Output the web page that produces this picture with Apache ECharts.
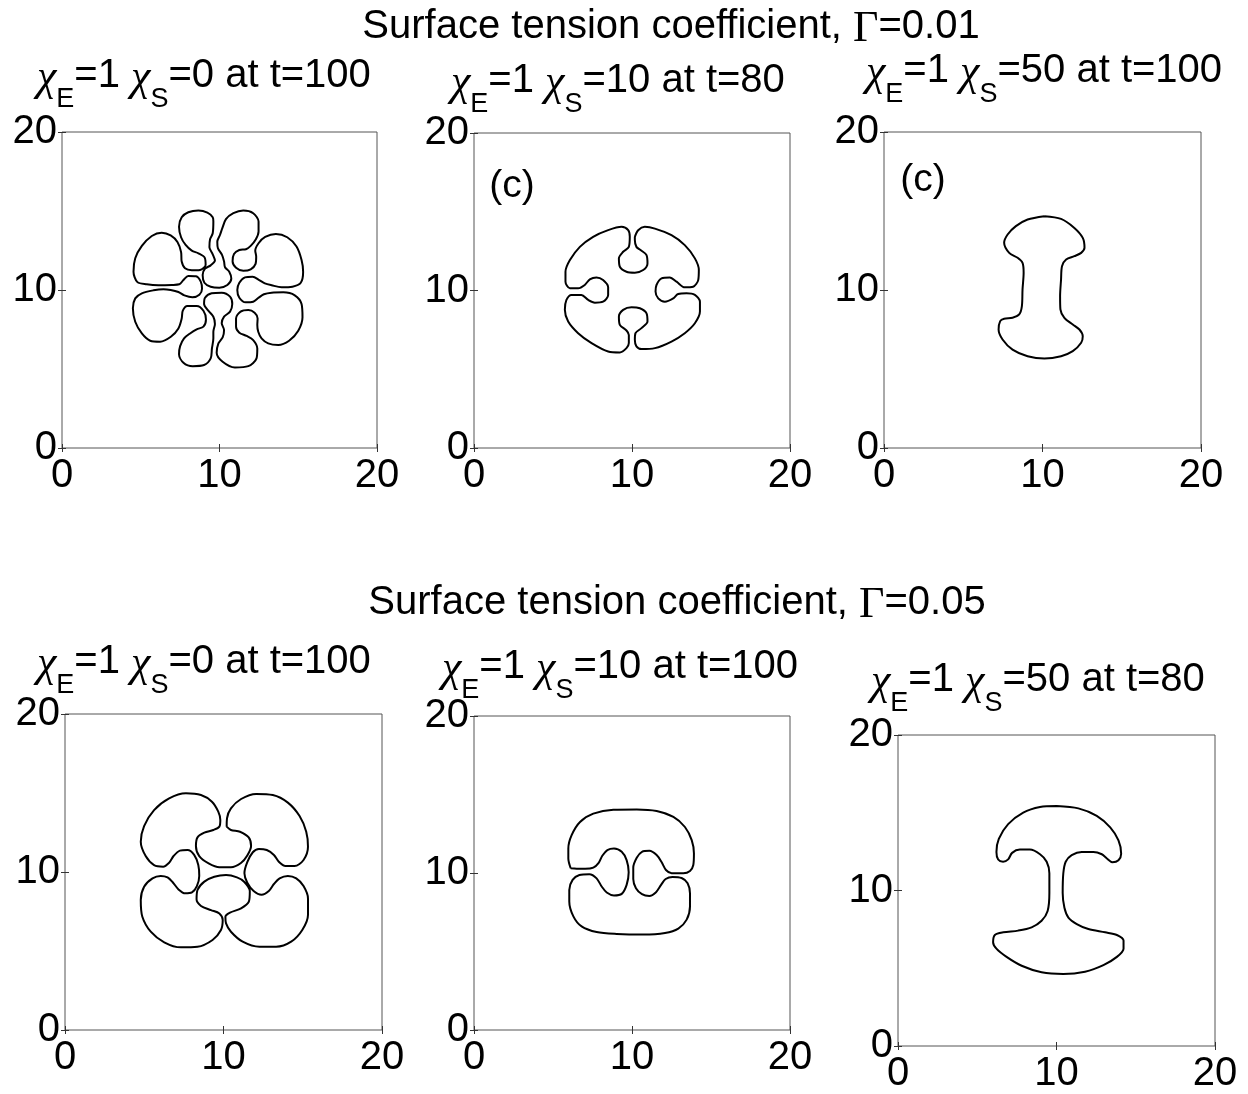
<!DOCTYPE html>
<html>
<head>
<meta charset="utf-8">
<script src="https://cdn.jsdelivr.net/npm/echarts@6/dist/echarts.min.js"></script>
<style>
  html, body { margin: 0; padding: 0; background: #ffffff; }
  #chart { width: 1248px; height: 1094px; }
</style>
</head>
<body>
<div id="chart"></div>
<script>
// Axis ticks shared by all six panels (domain is 0..20 in both directions)
const tickValues = [0, 10, 20];

// Row headings: surface tension coefficient per row
const gammaValues = ['0.01', '0.05'];

// Panel parameters, row by row
const chiEValues = [1, 1, 1, 1, 1, 1];
const chiSValues = [0, 10, 50, 0, 10, 50];
const timeValues = [100, 80, 100, 100, 100, 80];
const panelTags = ['', '(c)', '(c)', '', '', ''];

// Interface contours (x, y) for each run, traced once around the drop boundary
const contourG001S0 = [
  [9.61,14.33],[9.57,13.59],[9.40,13.21],[9.36,12.70],[9.57,12.26],[9.71,11.86],[9.44,11.56],[9.08,11.35],
  [8.93,10.95],[9.04,10.46],[9.44,10.21],[9.99,10.15],[10.50,10.32],[10.75,10.72],[10.62,11.16],[10.35,11.44],[10.29,11.80],
  [10.16,12.22],[9.90,12.64],[9.86,13.06],[10.03,13.48],[10.18,13.91],
  [10.41,14.48],[10.88,14.86],[11.51,15.03],[12.14,14.86],[12.48,14.33],[12.48,13.70],[12.31,13.21],[11.98,12.79],
  [11.68,12.58],[11.26,12.53],[10.92,12.28],[10.83,11.82],[11.05,11.41],[11.51,11.22],[11.98,11.31],[12.29,11.65],[12.33,12.11],[12.27,12.49],
  [12.48,12.96],[12.90,13.36],[13.58,13.55],[14.30,13.34],[14.89,12.75],[15.21,11.90],[15.31,11.16],[15.16,10.46],[14.63,10.21],[13.94,10.17],[13.31,10.30],[12.88,10.42],
  [12.52,10.63],[12.10,10.84],[11.62,10.80],[11.26,10.46],[11.13,10.00],[11.26,9.51],[11.66,9.22],[12.14,9.26],[12.48,9.51],[12.82,9.73],
  [13.31,9.83],[14.05,9.85],[14.78,9.66],[15.21,9.11],[15.27,8.27],[15.00,7.42],[14.42,6.79],[13.73,6.52],[13.09,6.62],[12.67,6.94],[12.46,7.36],
  [12.40,7.78],[12.42,8.20],[12.23,8.56],[11.83,8.73],[11.34,8.63],[11.05,8.20],[11.05,7.68],[11.26,7.30],[11.72,7.09],[12.14,6.83],
  [12.40,6.30],[12.35,5.67],[11.83,5.18],[10.98,5.10],[10.20,5.46],[9.82,6.03],[9.93,6.62],[10.20,7.00],
  [10.29,7.47],[10.14,7.89],[10.29,8.31],[10.67,8.63],[10.81,9.11],[10.67,9.58],[10.14,9.83],[9.50,9.79],[9.08,9.51],[9.02,9.11],[9.29,8.69],[9.61,8.31],[9.71,7.85],[9.61,7.36],[9.61,6.94],
  [9.52,6.30],[9.44,5.67],[9.02,5.25],[8.30,5.18],[7.71,5.40],[7.43,5.94],[7.50,6.45],[7.75,6.94],[8.13,7.25],[8.55,7.51],
  [8.98,7.68],[9.14,8.14],[8.98,8.69],[8.55,8.99],[7.96,8.99],[7.67,8.69],
  [7.60,8.20],[7.39,7.57],[6.91,7.04],[6.23,6.73],[5.60,6.79],[5.07,7.25],[4.65,7.99],[4.50,8.84],[4.65,9.47],[5.07,9.79],[5.81,9.98],[6.44,10.05],
  [6.90,10.00],[7.39,9.87],[7.77,9.66],[8.28,9.54],[8.72,9.70],[8.89,10.08],[8.81,10.53],[8.51,10.87],[8.02,10.89],[7.71,10.63],[7.45,10.36],
  [6.97,10.32],[6.12,10.30],[5.38,10.36],[4.79,10.50],[4.54,11.16],[4.65,12.01],[5.07,12.79],[5.70,13.42],[6.33,13.63],[6.90,13.46],[7.33,13.04],[7.56,12.41],[7.60,11.80],
  [7.81,11.37],[8.24,11.25],[8.76,11.27],[9.12,11.58],[9.06,12.05],[8.66,12.32],[8.24,12.49],
  [7.85,12.85],[7.56,13.34],[7.43,14.01],[7.60,14.60],[8.02,14.92],[8.66,15.03],[9.23,14.90],[9.57,14.60]
];

const contourG001S10 = [
  [10.18,13.41],[10.39,13.83],[10.81,14.04],[11.45,13.93],[12.50,13.51],[13.34,12.88],[13.98,12.04],[14.23,11.30],
  [14.19,10.66],[13.87,10.24],[13.34,10.20],[12.82,10.56],[12.39,10.83],[11.87,10.77],[11.55,10.35],[11.49,9.93],
  [11.66,9.50],[12.08,9.29],[12.61,9.50],[12.92,9.78],[13.45,9.82],[13.98,9.72],[14.30,9.29],[14.30,8.66],
  [13.98,7.92],[13.34,7.29],[12.50,6.76],[11.45,6.34],[10.60,6.28],[10.28,6.45],[10.18,6.87],[10.22,7.29],
  [10.60,7.61],[10.98,8.03],[10.92,8.55],[10.50,8.87],[9.97,8.94],[9.44,8.77],[9.17,8.34],[9.23,7.82],
  [9.65,7.46],[9.80,7.18],[9.80,6.66],[9.65,6.34],[9.23,6.07],[8.49,6.13],[7.44,6.66],[6.59,7.29],
  [5.96,8.03],[5.75,8.77],[5.85,9.40],[6.17,9.72],[6.80,9.72],[7.23,9.40],[7.65,9.23],[8.17,9.29],
  [8.49,9.72],[8.49,10.20],[8.17,10.66],[7.75,10.83],[7.33,10.71],[7.01,10.35],[6.59,10.14],[6.07,10.14],
  [5.79,10.56],[5.79,11.19],[6.07,11.93],[6.70,12.77],[7.54,13.41],[8.49,13.83],[9.34,14.04],[9.76,13.83],
  [9.86,13.41],[9.80,12.77],[9.44,12.46],[9.17,12.04],[9.23,11.51],[9.65,11.19],[10.18,11.13],[10.71,11.30],
  [10.98,11.72],[10.92,12.25],[10.56,12.56],[10.28,12.77],[10.18,13.20]
];

const contourG001S50 = [
  [10.12,14.67],[11.17,14.50],[12.01,13.93],[12.54,13.30],[12.65,12.67],[12.44,12.35],[12.01,12.14],[11.49,11.93],
  [11.23,11.51],[11.17,10.66],[11.11,9.61],[11.13,8.77],[11.38,8.24],[11.91,7.82],[12.33,7.50],[12.54,7.08],
  [12.44,6.66],[11.91,6.13],[11.17,5.81],[10.12,5.66],[9.06,5.81],[8.11,6.23],[7.48,6.87],[7.23,7.50],
  [7.33,8.03],[7.58,8.18],[8.11,8.24],[8.53,8.45],[8.70,8.98],[8.74,10.03],[8.81,11.09],[8.74,11.72],
  [8.43,12.04],[7.90,12.35],[7.58,12.99],[7.80,13.51],[8.32,14.04],[9.06,14.46]
];

const contourG005S0 = [
  [10.20,12.87],[10.22,13.40],[10.47,14.03],[11.11,14.62],[12.06,14.94],[13.11,14.87],[14.06,14.39],[14.80,13.54],
  [15.22,12.55],[15.33,11.60],[15.05,10.76],[14.48,10.38],[13.91,10.38],[13.49,10.65],[13.18,11.08],[12.73,11.39],
  [12.23,11.46],[11.85,11.25],[11.50,10.62],[11.32,9.92],[11.50,9.32],[11.90,8.80],[12.40,8.56],[12.86,8.80],
  [13.18,9.24],[13.54,9.60],[14.06,9.75],[14.59,9.60],[15.05,9.11],[15.33,8.33],[15.33,7.28],[14.97,6.33],
  [14.27,5.59],[13.32,5.27],[12.27,5.27],[11.21,5.59],[10.47,6.22],[10.16,6.75],[10.12,7.17],[10.41,7.43],
  [11.11,7.70],[11.60,8.12],[11.66,8.80],[11.30,9.38],[10.85,9.66],[10.16,9.81],[9.42,9.70],[8.79,9.39],
  [8.36,8.86],[8.30,8.27],[8.58,7.85],[9.21,7.59],[9.74,7.38],[9.95,6.96],[9.84,6.33],[9.31,5.70],
  [8.36,5.27],[7.31,5.23],[6.26,5.55],[5.41,6.22],[4.88,7.17],[4.78,8.23],[4.99,9.07],[5.52,9.60],
  [6.04,9.75],[6.47,9.66],[6.82,9.32],[7.16,8.90],[7.58,8.65],[8.01,8.71],[8.32,9.11],[8.47,9.75],
  [8.41,10.44],[8.15,11.08],[7.73,11.39],[7.25,11.35],[6.85,11.01],[6.57,10.59],[6.19,10.34],[5.62,10.44],
  [5.09,11.01],[4.78,11.92],[4.99,12.91],[5.62,13.92],[6.57,14.66],[7.63,14.98],[8.58,14.87],[9.27,14.45],
  [9.67,13.82],[9.80,13.29],[9.74,12.87],[9.36,12.66],[8.79,12.49],[8.36,12.19],[8.26,11.65],[8.47,11.01],
  [9.06,10.55],[9.74,10.30],[10.47,10.30],[11.10,10.57],[11.50,11.05],[11.74,11.65],[11.59,12.19],[11.04,12.55],
  [10.47,12.66]
];

const contourG005S10 = [
  [6.12,10.30],[5.97,10.93],[5.97,11.56],[6.18,12.41],[6.71,13.25],[7.55,13.78],[8.82,14.03],[10.30,14.05],
  [11.56,13.95],[12.62,13.57],[13.35,12.93],[13.78,12.09],[13.92,11.24],[13.88,10.51],[13.67,10.13],[13.25,9.98],
  [12.51,9.98],[12.15,10.19],[11.88,10.68],[11.56,11.14],[11.10,11.41],[10.63,11.35],[10.30,10.97],[10.08,10.34],
  [10.08,9.62],[10.25,9.03],[10.63,8.65],[11.10,8.54],[11.52,8.78],[11.84,9.24],[12.13,9.62],[12.57,9.75],
  [13.14,9.68],[13.52,9.35],[13.67,8.71],[13.67,7.87],[13.46,7.03],[12.93,6.46],[12.09,6.18],[10.72,6.08],
  [9.03,6.12],[7.76,6.24],[6.81,6.60],[6.29,7.24],[6.03,8.19],[6.03,8.92],[6.24,9.56],[6.67,9.87],
  [7.30,9.92],[7.76,9.66],[8.08,9.14],[8.40,8.76],[8.86,8.57],[9.35,8.67],[9.66,9.24],[9.79,10.04],
  [9.66,10.82],[9.35,11.35],[8.86,11.56],[8.44,11.46],[8.12,11.10],[7.89,10.65],[7.55,10.34],[7.03,10.27],
  [6.50,10.27]
];

const contourG005S50 = [
  [10.01,15.43],[11.38,15.28],[12.54,14.80],[13.39,14.06],[13.91,13.22],[14.08,12.37],[13.91,11.95],[13.53,11.82],
  [13.18,12.06],[12.86,12.33],[12.33,12.48],[11.59,12.48],[10.96,12.27],[10.58,11.85],[10.43,11.11],[10.39,9.84],
  [10.50,8.89],[10.75,8.26],[11.28,7.84],[12.01,7.52],[13.07,7.31],[13.81,7.14],[14.23,6.78],[14.23,6.26],
  [13.81,5.73],[12.96,5.20],[11.80,4.78],[10.43,4.63],[9.06,4.74],[7.80,5.16],[6.85,5.73],[6.21,6.26],
  [6.00,6.68],[6.11,7.14],[6.64,7.31],[7.58,7.42],[8.43,7.63],[9.06,8.05],[9.44,8.68],[9.55,9.84],
  [9.55,11.11],[9.38,11.85],[8.96,12.33],[8.32,12.63],[7.69,12.63],[7.20,12.42],[6.95,12.00],[6.63,11.85],
  [6.32,11.99],[6.21,12.48],[6.36,13.32],[6.95,14.27],[7.90,15.01],[8.96,15.37]
];

const contours = [contourG001S0, contourG001S10, contourG001S50, contourG005S0, contourG005S10, contourG005S50];

// Panel boxes on the page (pixels)
const panelBoxes = [
  { left: 62,  top: 132, width: 315, height: 316 },
  { left: 474, top: 133, width: 316, height: 315 },
  { left: 884, top: 132, width: 317, height: 316 },
  { left: 65,  top: 714, width: 317, height: 316 },
  { left: 474, top: 716, width: 316, height: 314 },
  { left: 898, top: 735, width: 317, height: 315 }
];
// Panel heading anchors (left edge, top of text line)
const headingAnchors = [[37, 56], [451, 61], [866, 51], [37, 642], [442, 647], [871, 660]];
const rowHeadingAnchors = [[671, 7], [677, 583]];
const tagAnchors = [null, [512, 186], [923, 180], null, null, null];

const SANS = 'Liberation Sans, Arial, sans-serif';
const SERIF = 'Liberation Serif, Times New Roman, serif';
const richText = {
  t: { fontFamily: SANS, fontSize: 40, lineHeight: 40, verticalAlign: 'top', fill: '#000' },
  g: { fontFamily: SERIF, fontSize: 44, fontStyle: 'italic', lineHeight: 40, verticalAlign: 'top', fill: '#000' },
  G: { fontFamily: SERIF, fontSize: 44, lineHeight: 40, verticalAlign: 'top', fill: '#000' },
  s: { fontFamily: SANS, fontSize: 27, lineHeight: 27, padding: [30, 0, 0, 0], verticalAlign: 'top', fill: '#000' }
};

const chart = echarts.init(document.getElementById('chart'), null, { renderer: 'canvas' });

const grid = [], xAxis = [], yAxis = [], series = [], graphic = [];
const axisBase = {
  type: 'value', min: tickValues[0], max: tickValues[tickValues.length - 1],
  interval: tickValues[1] - tickValues[0],
  splitLine: { show: false },
  axisLine: { show: false },
  axisTick: { show: true, inside: true, length: 4, lineStyle: { color: '#333', width: 1 } }
};
const xLabelStyle = { show: true, fontSize: 40, fontFamily: SANS, color: '#000', margin: 8 };
const yLabelStyle = { show: true, fontSize: 40, fontFamily: SANS, color: '#000', margin: 5 };

panelBoxes.forEach((box, i) => {
  grid.push(Object.assign({ show: true, borderColor: '#555', borderWidth: 1, backgroundColor: 'transparent' }, box));
  xAxis.push(Object.assign({}, axisBase, { gridIndex: i, position: 'bottom', axisLabel: xLabelStyle }));
  xAxis.push(Object.assign({}, axisBase, { gridIndex: i, position: 'top', axisLabel: { show: false } }));
  yAxis.push(Object.assign({}, axisBase, { gridIndex: i, position: 'left', axisLabel: yLabelStyle }));
  yAxis.push(Object.assign({}, axisBase, { gridIndex: i, position: 'right', axisLabel: { show: false } }));

  const ring = contours[i].concat([contours[i][0]]);
  series.push({
    type: 'line', xAxisIndex: 2 * i, yAxisIndex: 2 * i,
    data: ring, showSymbol: false, symbol: 'none', smooth: 0.3,
    lineStyle: { color: '#000', width: 2 }, silent: true
  });

  const h = headingAnchors[i];
  graphic.push({
    type: 'text', x: h[0], y: h[1], silent: true,
    style: {
      text: '{g|χ}{s|E}{t|=' + chiEValues[i] + ' }{g|χ}{s|S}{t|=' + chiSValues[i] + ' at t=' + timeValues[i] + '}',
      rich: richText, align: 'left', verticalAlign: 'top', fill: '#000'
    }
  });
  if (panelTags[i]) {
    graphic.push({
      type: 'text', x: tagAnchors[i][0], y: tagAnchors[i][1], silent: true,
      style: { text: panelTags[i], fontFamily: SANS, fontSize: 39, fill: '#000', align: 'center', verticalAlign: 'middle' }
    });
  }
});

gammaValues.forEach((g, r) => {
  graphic.push({
    type: 'text', x: rowHeadingAnchors[r][0], y: rowHeadingAnchors[r][1], silent: true,
    style: {
      text: '{t|Surface tension coefficient, }{G|Γ}{t|=' + g + '}',
      rich: richText, align: 'center', verticalAlign: 'top', fill: '#000'
    }
  });
});

chart.setOption({
  animation: false,
  backgroundColor: '#ffffff',
  grid, xAxis, yAxis, series, graphic
});
</script>
</body>
</html>
